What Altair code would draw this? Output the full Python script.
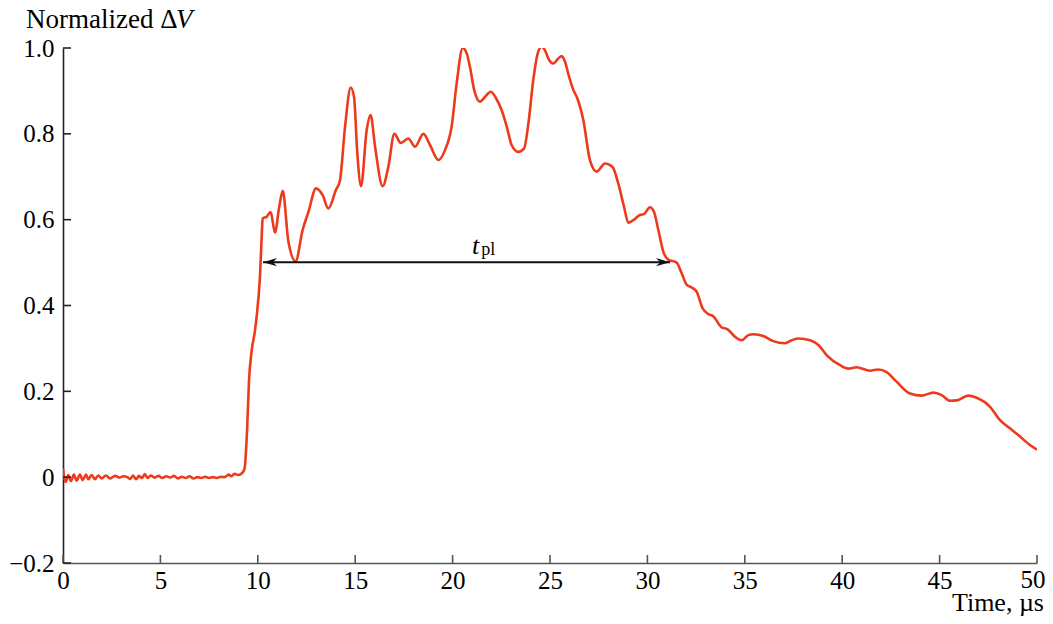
import altair as alt
import pandas as pd

# ---- data ----
time_us = [
    0, 0.14, 0.27, 0.41, 0.56, 0.70, 0.87, 1.01, 1.18, 1.30, 1.47, 1.64, 1.81, 1.99, 2.21, 2.41, 2.67,
    2.9, 3.1, 3.3, 3.45, 3.6, 3.75, 3.9, 4.05, 4.2, 4.35, 4.5, 4.7, 4.9, 5.1, 5.3, 5.5, 5.7, 5.9,
    6.1, 6.3, 6.5, 6.7, 6.9, 7.1, 7.3, 7.5, 7.7, 7.9, 8.1, 8.3, 8.5, 8.65, 8.8, 9.0, 9.2,
    9.32, 9.45, 9.55, 9.69, 9.85, 9.94, 10.11, 10.2, 10.25, 10.46, 10.66, 10.88, 11.1, 11.28, 11.57,
    11.94, 12.3, 12.6, 12.99, 13.33, 13.62, 14.01, 14.22, 14.48, 14.77, 14.94, 15.11, 15.30, 15.59,
    15.79, 16.02, 16.41, 16.7, 17.01, 17.34, 17.73, 18.07, 18.5, 18.84, 19.27, 19.61, 19.95, 20.21,
    20.52, 20.72, 20.89, 21.11, 21.41, 21.66, 21.96, 22.23, 22.52, 22.78, 23.03, 23.37, 23.67, 23.89,
    24.14, 24.35, 24.57, 24.74, 24.91, 25.17, 25.43, 25.6, 25.77, 25.98, 26.2, 26.4, 26.71, 27.05,
    27.4, 27.82, 28.08, 28.25, 28.5, 28.8, 29.02, 29.28, 29.62, 29.83, 30.13, 30.34, 30.56, 30.82,
    31.07, 31.5, 31.76, 32.02, 32.27, 32.53, 32.84, 33.13, 33.38, 33.81, 34.1, 34.5, 34.84, 35.18,
    35.44, 35.95, 36.46, 37.06, 37.41, 37.75, 38.35, 38.78, 39.21, 39.89, 40.31, 40.74, 41.43, 41.85,
    42.28, 42.8, 43.48, 44.08, 44.68, 45.11, 45.53, 45.88, 46.47, 46.9, 47.59, 48.1, 48.61, 49.04,
    49.64, 50.0,
]
norm_dv = [
    0.02, -0.011, 0.005, -0.009, 0.006, -0.008, 0.006, -0.007, 0.006, -0.005, 0.005, -0.005, 0.004,
    -0.003, 0.004, -0.003, 0.003, -0.001, 0.002, 0.0, -0.004, 0.004, -0.005, 0.003, -0.002, 0.007,
    -0.002, 0.004, -0.001, 0.003, -0.002, 0.002, -0.001, 0.003, -0.003, 0.001, -0.002, 0.002, -0.003,
    0.0, -0.002, 0.001, -0.002, 0.0, -0.002, 0.001, 0.0, 0.006, 0.002, 0.008, 0.005, 0.01,
    0.02, 0.11, 0.226, 0.296, 0.34, 0.374, 0.467, 0.56, 0.603, 0.607, 0.618, 0.570, 0.63, 0.667, 0.549,
    0.503, 0.576, 0.618, 0.673, 0.657, 0.626, 0.669, 0.692, 0.817, 0.908, 0.886, 0.754, 0.678, 0.809,
    0.844, 0.770, 0.678, 0.723, 0.80, 0.779, 0.789, 0.770, 0.80, 0.774, 0.739, 0.762, 0.817, 0.918,
    1.0, 0.988, 0.956, 0.902, 0.875, 0.886, 0.898, 0.883, 0.855, 0.817, 0.774, 0.758, 0.766, 0.824,
    0.925, 0.984, 1.003, 0.995, 0.976, 0.964, 0.976, 0.981, 0.968, 0.933, 0.902, 0.883, 0.832, 0.739,
    0.712, 0.731, 0.727, 0.72, 0.685, 0.63, 0.593, 0.599, 0.611, 0.613, 0.629, 0.618, 0.576, 0.525,
    0.507, 0.50, 0.475, 0.448, 0.442, 0.432, 0.393, 0.380, 0.375, 0.349, 0.345, 0.327, 0.319, 0.331,
    0.333, 0.329, 0.317, 0.312, 0.319, 0.323, 0.319, 0.308, 0.284, 0.261, 0.253, 0.256, 0.248, 0.251,
    0.245, 0.222, 0.195, 0.19, 0.197, 0.191, 0.178, 0.179, 0.19, 0.185, 0.164, 0.133, 0.114, 0.098,
    0.075, 0.064,
]

x_ticks = [0, 5, 10, 15, 20, 25, 30, 35, 40, 45, 50]
y_ticks = [-0.2, 0, 0.2, 0.4, 0.6, 0.8, 1.0]

arrow_start = 10.27
arrow_end = 31.16
arrow_level = 0.501
label_t = [21.18, 0.521]
label_pl = [21.83, 0.517]

FONT = "Liberation Serif"
RED = "#EE3A1C"
W, H = 974, 515

xs = alt.Scale(domain=[0, 50], nice=False, zero=False)
ys = alt.Scale(domain=[-0.2, 1.0], nice=False, zero=False)

x_axis = alt.Axis(
    values=x_ticks, title=None, ticks=False, grid=False,
    domainColor="#555555", domainWidth=1.6, labelFont=FONT, labelFontSize=25,
    labelColor="black", labelPadding=5, labelFlush=False, labelOverlap=False,
    labelExpr=f"datum.value == {x_ticks[-1]} ? '' : datum.label")
y_axis = alt.Axis(
    values=y_ticks, title=None, ticks=False, grid=False,
    domainColor="#222222", domainWidth=1.6, labelFont=FONT, labelFontSize=25,
    labelColor="black", labelPadding=9, labelFlush=False, labelOverlap=False,
    labelExpr="datum.value == 0 ? '0' : (datum.value < 0 ? '\u2212' + format(-datum.value, '.1f') : format(datum.value, '.1f'))")


def X(f):
    return alt.X(f, scale=xs, axis=x_axis)


def Y(f):
    return alt.Y(f, scale=ys, axis=y_axis)


curve_df = pd.DataFrame({"t": time_us, "v": norm_dv})

curve = alt.Chart(curve_df).mark_line(
    color=RED, strokeWidth=2.6, interpolate="monotone", clip=True
).encode(x=X("t:Q"), y=Y("v:Q"))

xt = alt.Chart(pd.DataFrame({"x": x_ticks})).mark_rule(color="#555555", strokeWidth=1.6).encode(
    x=X("x:Q"), y=alt.value(H), y2=alt.value(H - 8))
yt = alt.Chart(pd.DataFrame({"y": y_ticks})).mark_rule(color="#222222", strokeWidth=1.6).encode(
    y=Y("y:Q"), x=alt.value(0), x2=alt.value(8))

# last x label drawn as a text mark, nudged so it stays inside the page
last_lab = alt.Chart(pd.DataFrame({"x": [x_ticks[-1]], "s": [str(x_ticks[-1])]})).mark_text(
    font=FONT, fontSize=25, align="center", baseline="top", dx=-4, dy=5, color="black"
).encode(x=X("x:Q"), y=alt.value(H), text="s:N")

arrow_df = pd.DataFrame({"a": [arrow_start], "b": [arrow_end], "y": [arrow_level]})
arrow_line = alt.Chart(arrow_df).mark_rule(color="#111111", strokeWidth=2).encode(
    x=X("a:Q"), x2="b:Q", y=Y("y:Q"))
head_l = alt.Chart(arrow_df).mark_point(
    shape="M0,0 L2,-0.6 L1.4,0 L2,0.6 Z", size=196, filled=True, color="#111111", opacity=1
).encode(x=X("a:Q"), y=Y("y:Q"))
head_r = alt.Chart(arrow_df).mark_point(
    shape="M0,0 L-2,-0.6 L-1.4,0 L-2,0.6 Z", size=196, filled=True, color="#111111", opacity=1
).encode(x=X("b:Q"), y=Y("y:Q"))

lab_df = pd.DataFrame({"x": [label_t[0], label_pl[0]], "y": [label_t[1], label_pl[1]],
                       "s": ["t", "pl"]})
lab_t = alt.Chart(lab_df.iloc[[0]]).mark_text(
    font=FONT, fontSize=26, fontStyle="italic", baseline="alphabetic", align="center", color="black"
).encode(x=X("x:Q"), y=Y("y:Q"), text="s:N")
lab_pl = alt.Chart(lab_df.iloc[[1]]).mark_text(
    font=FONT, fontSize=18, baseline="alphabetic", align="center", color="black"
).encode(x=X("x:Q"), y=Y("y:Q"), text="s:N")

ytitle = alt.Chart(pd.DataFrame({"s": ["Normalized \u0394"]})).mark_text(
    font=FONT, fontSize=27, align="left", baseline="alphabetic", color="black"
).encode(x=alt.value(-37), y=alt.value(-20), text="s:N")
ytitle_v = alt.Chart(pd.DataFrame({"s": ["V"]})).mark_text(
    font=FONT, fontSize=27, fontStyle="italic", align="left", baseline="alphabetic", color="black"
).encode(x=alt.value(113), y=alt.value(-20), text="s:N")
xtitle = alt.Chart(pd.DataFrame({"s": ["Time, \u00b5s"]})).mark_text(
    font=FONT, fontSize=26, align="right", baseline="alphabetic", color="black"
).encode(x=alt.value(981), y=alt.value(563), text="s:N")

chart = alt.layer(curve, xt, yt, last_lab, arrow_line, head_l, head_r, lab_t, lab_pl,
                  ytitle, ytitle_v, xtitle).properties(
    width=W, height=H,
    autosize=alt.AutoSizeParams(type="none"),
    padding={"left": 55, "top": 40, "right": 8, "bottom": 53},
).configure_view(stroke=None)

chart.save("out.html", embed_options={"renderer": "svg", "actions": False})
